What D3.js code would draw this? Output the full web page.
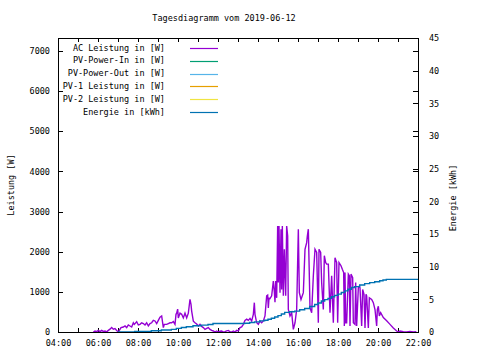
<!DOCTYPE html>
<html><head><meta charset="utf-8">
<script src="https://cdn.jsdelivr.net/npm/d3@7"></script>
<style>
html,body{margin:0;padding:0;background:#fff;}
svg{display:block;}
text{font-family:"DejaVu Sans Mono","Liberation Mono",monospace;font-size:8.5px;fill:#000;}
</style></head>
<body>
<svg id="chart" width="480" height="360"></svg>
<script>
const title = "Tagesdiagramm vom 2019-06-12";
const yLabel = "Leistung [W]";
const y2Label = "Energie [kWh]";
const seriesNames = ["AC Leistung in [W]","PV-Power-In in [W]","PV-Power-Out in [W]","PV-1 Leistung in [W]","PV-2 Leistung in [W]","Energie in [kWh]"];
const seriesColors = ["#9400d3","#009e73","#56b4e9","#e69f00","#f0e442","#0072b2"];
const xTickHours = [4,5,6,7,8,9,10,11,12,13,14,15,16,17,18,19,20,21,22];
const yTicks = [0,1000,2000,3000,4000,5000,6000,7000];
const y2Ticks = [0,5,10,15,20,25,30,35,40,45];

const acTime = ["05:46","05:51","05:56","06:01","06:06","06:11","06:16","06:21","06:26","06:31","06:36","06:41","06:46","06:51","06:56","07:01","07:04","07:09","07:16","07:21","07:26","07:31","07:36","07:41","07:46","07:49","07:56","08:01","08:06","08:11","08:16","08:21","08:26","08:31","08:36","08:41","08:46","08:51","08:56","09:01","09:06","09:11","09:16","09:19","09:26","09:31","09:36","09:41","09:46","09:51","09:54","09:56","09:59","10:01","10:06","10:11","10:16","10:21","10:26","10:31","10:36","10:39","10:41","10:46","10:51","10:56","11:01","11:06","11:11","11:16","11:21","11:26","11:31","11:36","11:41","11:46","11:51","11:56","12:01","12:06","12:11","12:16","12:21","12:26","12:31","12:36","12:41","12:46","12:51","12:56","13:01","13:06","13:11","13:16","13:21","13:26","13:31","13:36","13:41","13:46","13:49","13:51","13:56","14:01","14:06","14:11","14:16","14:21","14:26","14:29","14:31","14:33","14:36","14:41","14:46","14:49","14:51","14:53","14:56","14:59","15:01","15:03","15:06","15:09","15:11","15:13","15:16","15:19","15:23","15:26","15:29","15:31","15:36","15:41","15:46","15:51","15:56","16:01","16:04","16:09","16:16","16:21","16:26","16:28","16:31","16:34","16:36","16:41","16:46","16:51","16:56","17:01","17:03","17:08","17:11","17:16","17:19","17:23","17:26","17:31","17:36","17:41","17:46","17:51","17:56","17:59","18:03","18:09","18:13","18:17","18:19","18:21","18:23","18:26","18:31","18:34","18:36","18:39","18:44","18:46","18:51","18:53","18:56","19:01","19:04","19:06","19:11","19:14","19:18","19:21","19:24","19:26","19:31","19:34","19:41","19:46","19:51","19:56","19:58","20:01","20:04","20:08","20:16","20:26","20:36","20:46","20:56","21:01","21:06","21:16","21:26","21:36","21:46","21:55"];
const acPower = [0,25,10,40,10,40,15,25,5,40,70,110,70,85,40,0,40,110,125,150,110,175,150,125,230,190,255,175,190,230,210,175,230,150,210,230,290,275,210,290,370,400,110,190,190,210,230,230,260,190,440,470,570,350,470,440,350,470,350,470,815,690,520,270,230,200,150,190,140,110,65,90,110,65,40,25,0,25,0,20,25,0,10,30,40,5,0,25,0,40,25,110,125,190,290,320,290,340,275,440,730,440,230,190,275,230,275,400,900,920,600,840,830,900,1270,1000,740,1270,850,2640,1230,2640,980,2560,1060,2640,900,2060,900,2640,2390,560,400,480,65,230,560,2560,980,810,980,2060,2225,2390,2560,1400,600,480,1400,2060,1980,230,2060,1980,1230,560,1900,1730,1690,1690,480,1400,230,1850,1730,230,1730,1650,1560,1480,150,1480,230,230,1440,1400,150,1440,1350,230,190,1230,150,1100,1140,1100,150,1060,940,100,940,900,100,850,810,730,560,150,560,640,400,480,360,280,190,100,25,0,25,10,0,15,0,10];

const pvInTime = [], pvInPower = [];
const pvOutTime = [], pvOutPower = [];
const pv1Time = [], pv1Power = [];
const pv2Time = [], pv2Power = [];

const energyTime = ["07:00","07:50","08:40","09:10","09:40","09:55","10:10","10:25","10:45","11:10","11:30","11:45","13:20","13:35","13:50","14:05","14:20","14:30","14:40","14:50","15:00","15:10","15:20","15:35","15:50","16:05","16:20","16:35","16:50","17:00","17:10","17:20","17:30","17:40","17:50","18:00","18:10","18:20","18:30","18:40","18:50","19:05","19:20","19:35","19:50","20:05","20:15","20:25","22:00"];
const energyKWh = [0,0.1,0.2,0.3,0.4,0.55,0.7,0.8,0.95,1.05,1.15,1.3,1.35,1.45,1.55,1.7,1.8,1.95,2.1,2.3,2.5,2.75,3.0,3.1,3.2,3.4,3.6,3.9,4.2,4.45,4.75,4.95,5.15,5.4,5.6,5.8,6.05,6.3,6.55,6.8,6.95,7.2,7.4,7.55,7.7,7.85,7.95,8.05,8.05];

const toH = s => { const [h,m] = s.split(":").map(Number); return h + m/60; };
const pad2 = n => String(n).padStart(2,"0");

const L = 58, R = 418, T = 38, B = 332;
const svg = d3.select("#chart");
const x = d3.scaleLinear().domain([4,22]).range([L,R]);
const y = d3.scaleLinear().domain([0,7320]).range([B,T]);
const y2 = d3.scaleLinear().domain([0,45]).range([B,T]);

function styleAxis(g){
  g.select(".domain").remove();
  g.selectAll("line").attr("stroke","#000").attr("shape-rendering","crispEdges");
  g.selectAll("text").attr("fill","#000").style("font-family",'"DejaVu Sans Mono","Liberation Mono",monospace').style("font-size","8.5px");
}
const xfmt = h => (h % 2 === 0 ? pad2(h) + ":00" : "");

svg.append("g").attr("transform",`translate(0,${B})`)
  .call(d3.axisBottom(x).tickValues(xTickHours).tickFormat(xfmt).tickSizeInner(-4).tickSizeOuter(0).tickPadding(8))
  .call(styleAxis);
svg.append("g").attr("transform",`translate(0,${T})`)
  .call(d3.axisTop(x).tickValues(xTickHours).tickFormat("").tickSizeInner(-4).tickSizeOuter(0))
  .call(styleAxis);
svg.append("g").attr("transform",`translate(${L},0)`)
  .call(d3.axisLeft(y).tickValues(yTicks).tickFormat(d3.format("d")).tickSizeInner(-5).tickSizeOuter(0).tickPadding(8))
  .call(styleAxis);
svg.append("g").attr("transform",`translate(${R},0)`)
  .call(d3.axisRight(y).tickValues(yTicks).tickFormat("").tickSizeInner(-5).tickSizeOuter(0))
  .call(styleAxis);
svg.append("g").attr("transform",`translate(${R},0)`)
  .call(d3.axisRight(y2).tickValues(y2Ticks).tickFormat(d3.format("d")).tickSizeInner(-5).tickSizeOuter(0).tickPadding(11))
  .call(styleAxis);

// data lines
const acData = acTime.map((t,i)=>({h:toH(t), v:acPower[i]}));
const enData = energyTime.map((t,i)=>({h:toH(t), v:energyKWh[i]}));
const lineW = d3.line().x(d=>x(d.h)).y(d=>y(d.v));
const lineE = d3.line().x(d=>x(d.h)).y(d=>y2(d.v)).curve(d3.curveStepAfter);

const others = [[pvInTime,pvInPower],[pvOutTime,pvOutPower],[pv1Time,pv1Power],[pv2Time,pv2Power]];
others.forEach((s,i)=>{
  const dd = s[0].map((t,j)=>({h:toH(t), v:s[1][j]}));
  if (dd.length) svg.append("path").datum(dd).attr("d",lineW).attr("fill","none").attr("stroke",seriesColors[i+1]).attr("stroke-width",1.3);
});
svg.append("path").datum(acData).attr("d",lineW).attr("fill","none").attr("stroke",seriesColors[0]).attr("stroke-width",1.4).attr("stroke-linejoin","miter");
svg.append("path").datum(enData).attr("d",lineE).attr("fill","none").attr("stroke",seriesColors[5]).attr("stroke-width",1.4);

// frame
svg.append("rect").attr("x",L).attr("y",T).attr("width",R-L).attr("height",B-T)
  .attr("fill","none").attr("stroke","#000").attr("stroke-width",1).attr("shape-rendering","crispEdges");

// title and axis labels
svg.append("text").attr("x",224).attr("y",18).attr("text-anchor","middle").attr("dominant-baseline","middle").text(title);
svg.append("text").attr("transform","translate(11,185) rotate(-90)").attr("text-anchor","middle").attr("dominant-baseline","middle").text(yLabel);
svg.append("text").attr("transform","translate(453,198) rotate(-90)").attr("text-anchor","middle").attr("dominant-baseline","middle").text(y2Label);

// legend
const lg = svg.append("g");
seriesNames.forEach((n,i)=>{
  const yy = 48 + i*12.8;
  lg.append("text").attr("x",165).attr("y",yy).attr("text-anchor","end").attr("dominant-baseline","middle").text(n);
  lg.append("line").attr("x1",190).attr("x2",218).attr("y1",Math.round(yy)+0.5).attr("y2",Math.round(yy)+0.5)
    .attr("stroke",seriesColors[i]).attr("stroke-width",1.2);
});
</script>
</body></html>
